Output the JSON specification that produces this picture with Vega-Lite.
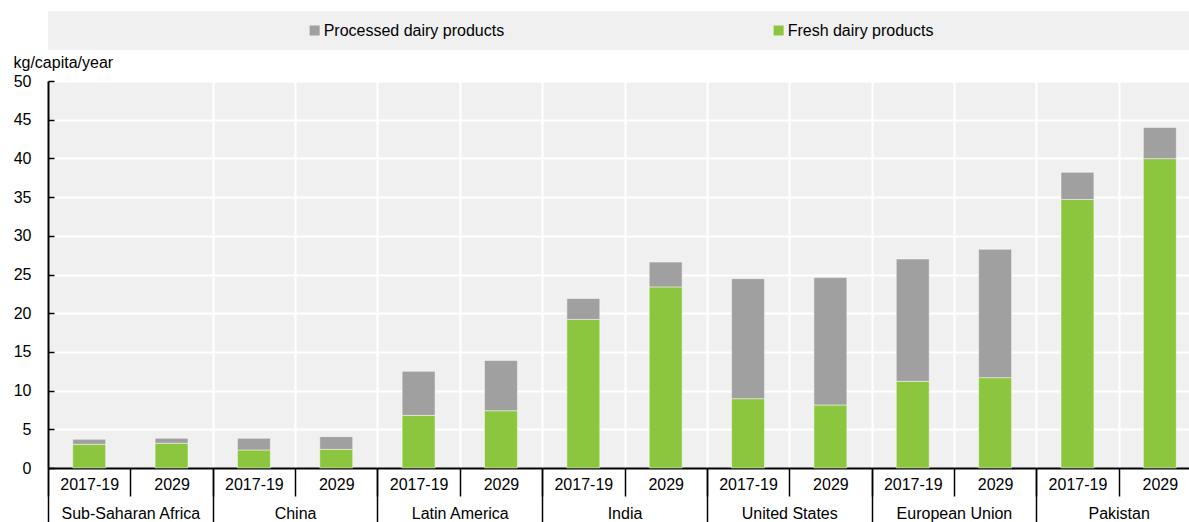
{
  "$schema": "https://vega.github.io/schema/vega-lite/v6.json",
  "autosize": {"type": "pad"},
  "padding": {"left": 13, "top": 11, "right": 0, "bottom": 0},
  "background": "white",
  "spacing": 31,
  "bounds": "flush",
  "datasets": {
    "legend": [
      {"series": "Processed dairy products"},
      {"series": "Fresh dairy products"}
    ],
    "bars": [
      {"region": "Sub-Saharan Africa", "period": "2017-19", "key": "Sub-Saharan Africa|2017-19", "series": "Fresh dairy products", "value": 3.06},
      {"region": "Sub-Saharan Africa", "period": "2017-19", "key": "Sub-Saharan Africa|2017-19", "series": "Processed dairy products", "value": 0.64},
      {"region": "Sub-Saharan Africa", "period": "2029", "key": "Sub-Saharan Africa|2029", "series": "Fresh dairy products", "value": 3.2},
      {"region": "Sub-Saharan Africa", "period": "2029", "key": "Sub-Saharan Africa|2029", "series": "Processed dairy products", "value": 0.64},
      {"region": "China", "period": "2017-19", "key": "China|2017-19", "series": "Fresh dairy products", "value": 2.33},
      {"region": "China", "period": "2017-19", "key": "China|2017-19", "series": "Processed dairy products", "value": 1.5},
      {"region": "China", "period": "2029", "key": "China|2029", "series": "Fresh dairy products", "value": 2.41},
      {"region": "China", "period": "2029", "key": "China|2029", "series": "Processed dairy products", "value": 1.64},
      {"region": "Latin America", "period": "2017-19", "key": "Latin America|2017-19", "series": "Fresh dairy products", "value": 6.8},
      {"region": "Latin America", "period": "2017-19", "key": "Latin America|2017-19", "series": "Processed dairy products", "value": 5.69},
      {"region": "Latin America", "period": "2029", "key": "Latin America|2029", "series": "Fresh dairy products", "value": 7.4},
      {"region": "Latin America", "period": "2029", "key": "Latin America|2029", "series": "Processed dairy products", "value": 6.5},
      {"region": "India", "period": "2017-19", "key": "India|2017-19", "series": "Fresh dairy products", "value": 19.2},
      {"region": "India", "period": "2017-19", "key": "India|2017-19", "series": "Processed dairy products", "value": 2.7},
      {"region": "India", "period": "2029", "key": "India|2029", "series": "Fresh dairy products", "value": 23.4},
      {"region": "India", "period": "2029", "key": "India|2029", "series": "Processed dairy products", "value": 3.2},
      {"region": "United States", "period": "2017-19", "key": "United States|2017-19", "series": "Fresh dairy products", "value": 8.96},
      {"region": "United States", "period": "2017-19", "key": "United States|2017-19", "series": "Processed dairy products", "value": 15.5},
      {"region": "United States", "period": "2029", "key": "United States|2029", "series": "Fresh dairy products", "value": 8.14},
      {"region": "United States", "period": "2029", "key": "United States|2029", "series": "Processed dairy products", "value": 16.46},
      {"region": "European Union", "period": "2017-19", "key": "European Union|2017-19", "series": "Fresh dairy products", "value": 11.2},
      {"region": "European Union", "period": "2017-19", "key": "European Union|2017-19", "series": "Processed dairy products", "value": 15.8},
      {"region": "European Union", "period": "2029", "key": "European Union|2029", "series": "Fresh dairy products", "value": 11.67},
      {"region": "European Union", "period": "2029", "key": "European Union|2029", "series": "Processed dairy products", "value": 16.58},
      {"region": "Pakistan", "period": "2017-19", "key": "Pakistan|2017-19", "series": "Fresh dairy products", "value": 34.7},
      {"region": "Pakistan", "period": "2017-19", "key": "Pakistan|2017-19", "series": "Processed dairy products", "value": 3.5},
      {"region": "Pakistan", "period": "2029", "key": "Pakistan|2029", "series": "Fresh dairy products", "value": 39.97},
      {"region": "Pakistan", "period": "2029", "key": "Pakistan|2029", "series": "Processed dairy products", "value": 4.03}
    ]
  },
  "vconcat": [
    {
      "width": 1153,
      "height": 39,
      "view": {"fill": "#f0f0f0", "stroke": null},
      "data": {"name": "legend"},
      "encoding": {
        "x": {"field": "series", "type": "nominal", "sort": null,
              "scale": {"type": "band", "paddingInner": 0, "paddingOuter": 0.2425, "align": 0.154},
              "axis": null}
      },
      "layer": [
        {
          "mark": {"type": "point", "shape": "square", "filled": true, "size": 100, "opacity": 1},
          "encoding": {
            "color": {"field": "series", "type": "nominal",
                      "scale": {"domain": ["Processed dairy products", "Fresh dairy products"], "range": ["#a0a0a0", "#8cc63f"]},
                      "legend": null}
          }
        },
        {
          "mark": {"type": "text", "align": "left", "baseline": "middle", "dx": 9, "fontSize": 16, "font": "Liberation Sans", "color": "black"},
          "encoding": {"text": {"field": "series", "type": "nominal"}}
        }
      ]
    },
    {
      "width": 1153,
      "height": 387,
      "view": {"fill": "#f0f0f0", "stroke": null},
      "data": {"name": "bars"},
      "resolve": {"scale": {"x": "independent"}, "axis": {"x": "independent"}},
      "layer": [
        {
          "mark": {"type": "bar", "width": {"band": 0.4}, "stroke": "#ffffff", "strokeWidth": 0.8, "strokeOpacity": 0.6},
          "encoding": {
            "x": {"field": "key", "type": "nominal", "sort": null,
                  "scale": {"paddingInner": 0, "paddingOuter": 0},
                  "axis": {"orient": "bottom", "title": null,
                           "labelExpr": "substring(datum.label, indexof(datum.label, '|') + 1)",
                           "labelAngle": 0, "labelFontSize": 16, "labelFont": "Liberation Sans", "labelColor": "black",
                           "labelPadding": -20, "labelBound": false,
                           "tickBand": "extent", "tickSize": 28, "tickWidth": 1.5, "tickColor": "black",
                           "domainColor": "black", "domainWidth": 2,
                           "grid": true, "gridWidth": 2,
                           "gridColor": {"condition": {"test": "datum.index === 0", "value": "transparent"}, "value": "#ffffff"}}},
            "y": {"field": "value", "type": "quantitative", "stack": "zero",
                  "scale": {"domain": [0, 50]},
                  "axis": {"title": "kg/capita/year", "titleAngle": 0, "titleAlign": "left", "titleBaseline": "alphabetic",
                           "titleX": -35, "titleY": -14, "titleFontSize": 16, "titleFontWeight": "normal",
                           "titleFont": "Liberation Sans", "titleColor": "black",
                           "values": [0, 5, 10, 15, 20, 25, 30, 35, 40, 45, 50],
                           "labelFontSize": 16, "labelFont": "Liberation Sans", "labelColor": "black",
                           "tickSize": -6, "tickWidth": 1.5, "tickColor": "black", "labelPadding": 23,
                           "domainColor": "black", "domainWidth": 2,
                           "grid": true, "gridWidth": 2,
                           "gridColor": {"condition": {"test": "datum.value === 0", "value": "transparent"}, "value": "#ffffff"}}},
            "color": {"field": "series", "type": "nominal",
                      "scale": {"domain": ["Processed dairy products", "Fresh dairy products"], "range": ["#a0a0a0", "#8cc63f"]},
                      "legend": null},
            "order": {"field": "series", "sort": "ascending"}
          }
        },
        {
          "mark": {"type": "rule", "opacity": 0},
          "encoding": {
            "x": {"field": "region", "type": "nominal", "sort": null,
                  "scale": {"paddingInner": 0, "paddingOuter": 0},
                  "axis": {"orient": "bottom", "title": null, "labelAngle": 0,
                           "labelFontSize": 16, "labelFont": "Liberation Sans", "labelColor": "black",
                           "labelPadding": -17, "labelBound": false,
                           "tickBand": "extent", "tickSize": 54, "tickWidth": 1.5, "tickColor": "black",
                           "domain": false, "grid": false}}
          }
        }
      ]
    }
  ],
  "config": {
    "font": "Liberation Sans",
    "axis": {"labelFontSize": 16, "labelColor": "black"}
  }
}
